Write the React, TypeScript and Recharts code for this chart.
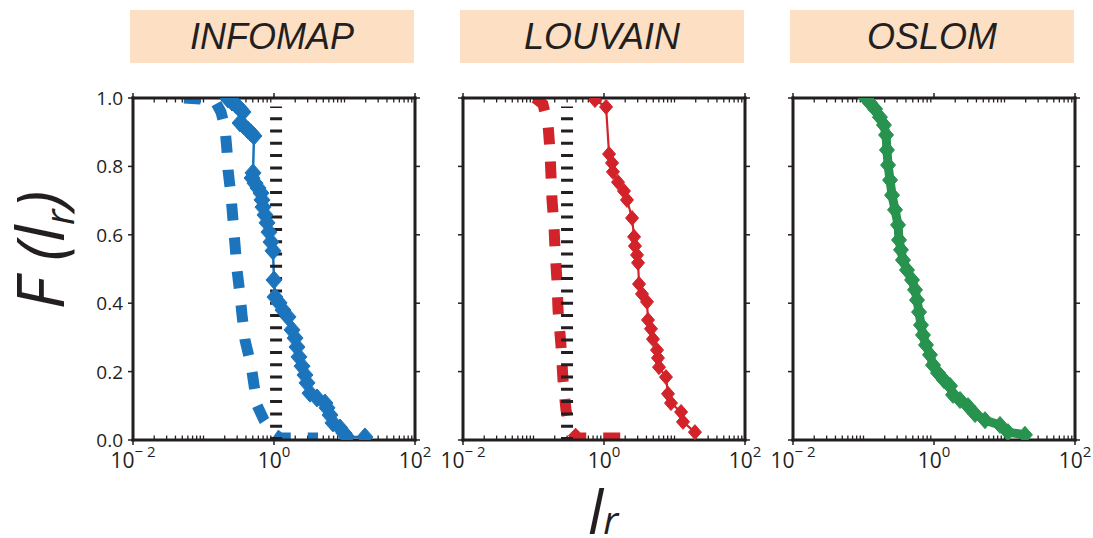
import React from "react";
import { LineChart, Line, XAxis, YAxis, ReferenceLine } from "recharts";

const INK = "#231f20";
const BLUE = "#1c75bc";
const RED = "#d2232a";
const GREEN = "#27934f";
const TITLE_BG = "#fddfc4";
const FONT = "'Open Sans', 'Noto Sans', sans-serif";

type Pt = { l: number; f: number };

// INFOMAP: observed ranking (solid + diamonds), null model (dashed), cut-off (dotted)
const infomapObserved: Pt[] = [
  { l: 0.223, f: 0.997 }, { l: 0.254, f: 0.988 }, { l: 0.289, f: 0.98 }, { l: 0.33, f: 0.968 },
  { l: 0.363, f: 0.959 }, { l: 0.33, f: 0.927 }, { l: 0.375, f: 0.918 }, { l: 0.428, f: 0.906 },
  { l: 0.472, f: 0.898 }, { l: 0.52, f: 0.889 }, { l: 0.504, f: 0.781 }, { l: 0.488, f: 0.766 },
  { l: 0.538, f: 0.751 }, { l: 0.593, f: 0.737 }, { l: 0.654, f: 0.722 }, { l: 0.676, f: 0.702 },
  { l: 0.698, f: 0.681 }, { l: 0.745, f: 0.658 }, { l: 0.796, f: 0.635 }, { l: 0.849, f: 0.608 },
  { l: 0.906, f: 0.579 }, { l: 0.968, f: 0.553 }, { l: 1.0, f: 0.468 }, { l: 1.033, f: 0.418 },
  { l: 1.18, f: 0.401 }, { l: 1.34, f: 0.38 }, { l: 1.58, f: 0.36 }, { l: 1.8, f: 0.322 },
  { l: 1.99, f: 0.298 }, { l: 2.12, f: 0.272 }, { l: 2.26, f: 0.243 }, { l: 2.5, f: 0.216 },
  { l: 2.75, f: 0.19 }, { l: 2.94, f: 0.167 }, { l: 3.24, f: 0.137 }, { l: 4.07, f: 0.123 },
  { l: 5.29, f: 0.108 }, { l: 5.65, f: 0.094 }, { l: 6.23, f: 0.073 }, { l: 6.87, f: 0.05 },
  { l: 8.63, f: 0.035 }, { l: 9.84, f: 0.02 }, { l: 10.8, f: 0.009 }, { l: 19.5, f: 0.009 },
];
const infomapNull: Pt[] = [
  { l: 0.053, f: 1.0 }, { l: 0.089, f: 0.997 }, { l: 0.146, f: 0.991 }, { l: 0.177, f: 0.959 },
  { l: 0.202, f: 0.912 }, { l: 0.215, f: 0.848 }, { l: 0.223, f: 0.789 }, { l: 0.245, f: 0.716 },
  { l: 0.262, f: 0.643 }, { l: 0.28, f: 0.57 }, { l: 0.299, f: 0.497 }, { l: 0.33, f: 0.424 },
  { l: 0.352, f: 0.365 }, { l: 0.388, f: 0.292 }, { l: 0.472, f: 0.219 }, { l: 0.52, f: 0.161 },
  { l: 0.574, f: 0.102 }, { l: 0.721, f: 0.058 }, { l: 0.937, f: 0.023 }, { l: 1.22, f: 0.006 },
  { l: 4.21, f: 0.006 },
];
const infomapCut: Pt[] = [{ l: 1.07, f: 0 }, { l: 1.07, f: 0.975 }];

// LOUVAIN
const louvainObserved: Pt[] = [
  { l: 0.745, f: 0.994 }, { l: 1.07, f: 0.974 }, { l: 1.18, f: 0.836 }, { l: 1.3, f: 0.81 },
  { l: 1.34, f: 0.784 }, { l: 1.58, f: 0.754 }, { l: 1.92, f: 0.728 }, { l: 2.12, f: 0.702 },
  { l: 2.5, f: 0.649 }, { l: 2.67, f: 0.594 }, { l: 2.75, f: 0.567 }, { l: 2.94, f: 0.541 },
  { l: 3.04, f: 0.518 }, { l: 3.14, f: 0.456 }, { l: 3.46, f: 0.427 }, { l: 4.07, f: 0.404 },
  { l: 4.21, f: 0.351 }, { l: 4.64, f: 0.325 }, { l: 4.95, f: 0.295 }, { l: 5.65, f: 0.263 },
  { l: 5.83, f: 0.24 }, { l: 6.03, f: 0.213 }, { l: 7.57, f: 0.184 }, { l: 8.09, f: 0.135 },
  { l: 8.92, f: 0.108 }, { l: 12.4, f: 0.082 }, { l: 13.2, f: 0.053 }, { l: 19.5, f: 0.023 },
];
const louvainNull: Pt[] = [
  { l: 0.105, f: 1.0 }, { l: 0.136, f: 0.982 }, { l: 0.161, f: 0.921 }, { l: 0.171, f: 0.848 },
  { l: 0.177, f: 0.775 }, { l: 0.183, f: 0.702 }, { l: 0.195, f: 0.629 }, { l: 0.202, f: 0.556 },
  { l: 0.215, f: 0.468 }, { l: 0.223, f: 0.38 }, { l: 0.245, f: 0.278 }, { l: 0.262, f: 0.175 },
  { l: 0.289, f: 0.088 }, { l: 0.33, f: 0.029 }, { l: 0.428, f: 0.006 }, { l: 1.3, f: 0.006 },
  { l: 2.42, f: 0.006 },
];
const louvainCut: Pt[] = [{ l: 0.299, f: 0 }, { l: 0.299, f: 0.975 }];

// OSLOM
const oslomObserved: Pt[] = [
  { l: 0.108, f: 1.0 }, { l: 0.124, f: 0.985 }, { l: 0.146, f: 0.968 }, { l: 0.171, f: 0.944 },
  { l: 0.195, f: 0.921 }, { l: 0.209, f: 0.892 }, { l: 0.215, f: 0.848 }, { l: 0.223, f: 0.804 },
  { l: 0.238, f: 0.76 }, { l: 0.254, f: 0.716 }, { l: 0.28, f: 0.673 }, { l: 0.309, f: 0.629 },
  { l: 0.319, f: 0.585 }, { l: 0.34, f: 0.556 }, { l: 0.363, f: 0.526 }, { l: 0.414, f: 0.497 },
  { l: 0.488, f: 0.468 }, { l: 0.538, f: 0.439 }, { l: 0.574, f: 0.409 }, { l: 0.613, f: 0.374 },
  { l: 0.654, f: 0.336 }, { l: 0.698, f: 0.307 }, { l: 0.77, f: 0.278 }, { l: 0.877, f: 0.249 },
  { l: 0.968, f: 0.219 }, { l: 1.14, f: 0.196 }, { l: 1.39, f: 0.175 }, { l: 1.69, f: 0.158 },
  { l: 1.86, f: 0.132 }, { l: 2.34, f: 0.117 }, { l: 3.04, f: 0.099 }, { l: 3.82, f: 0.076 },
  { l: 5.29, f: 0.058 }, { l: 8.63, f: 0.044 }, { l: 11.2, f: 0.023 }, { l: 19.5, f: 0.015 },
];

const panelTitles = ["INFOMAP", "LOUVAIN", "OSLOM"];
const xDomain: [number, number] = [0.01, 100];
const xMajorTicks = [0.01, 1, 100];
const xMinorTicks = [
  0.02, 0.03, 0.04, 0.05, 0.06, 0.07, 0.08, 0.09, 0.1,
  0.2, 0.3, 0.4, 0.5, 0.6, 0.7, 0.8, 0.9,
  2, 3, 4, 5, 6, 7, 8, 9, 10,
  20, 30, 40, 50, 60, 70, 80, 90,
];
const yTicks = [0, 0.2, 0.4, 0.6, 0.8, 1.0];

// plot-area geometry
const PLOT_LEFTS = [133, 463, 793];
const PLOT_W = 282;
const PLOT_TOP = 98;
const PLOT_BOTTOM = 440;
const SIDE = 60;
const H = 538;
const AX = 1; // thickness reserved by each axis

const Diamond = (color: string, w: number, h: number) => (props: any) => {
  const { cx, cy, index } = props;
  if (cx == null || cy == null) return <g key={`d-${index}`} />;
  return (
    <polygon
      key={`d-${index}`}
      points={`${cx},${cy - h} ${cx + w},${cy} ${cx},${cy + h} ${cx - w},${cy}`}
      fill={color}
      stroke={color}
      strokeWidth={1}
    />
  );
};

const XTick = (props: any) => {
  const { x, y, payload } = props;
  const exp = Math.round(Math.log10(payload.value));
  const sup = exp < 0 ? `\u2212 ${Math.abs(exp)}` : `${exp}`;
  return (
    <text x={x} y={y + 23} textAnchor="middle" fontFamily={FONT} fontSize={21} fill={INK}>
      <tspan>10</tspan>
      <tspan dy={-11} fontSize={15}>{sup}</tspan>
    </text>
  );
};

const YTickLabeled = (props: any) => {
  const { x, y, payload } = props;
  return (
    <text x={x} y={y} dy={7} textAnchor="end" fontFamily={FONT} fontSize={19} fill={INK}>
      {Number(payload.value).toFixed(1)}
    </text>
  );
};
const NoTick = () => <g />;

type Series = {
  observed: Pt[];
  color: string;
  lineWidth: number;
  marker: [number, number];
  nullModel?: Pt[];
  cut?: Pt[];
};

const panels: Series[] = [
  { observed: infomapObserved, color: BLUE, lineWidth: 2.5, marker: [8, 9], nullModel: infomapNull, cut: infomapCut },
  { observed: louvainObserved, color: RED, lineWidth: 2.2, marker: [6.5, 7.5], nullModel: louvainNull, cut: louvainCut },
  { observed: oslomObserved, color: GREEN, lineWidth: 9, marker: [7.5, 8.5] },
];

function Panel({ idx }: { idx: number }) {
  const s = panels[idx];
  const left = PLOT_LEFTS[idx] - SIDE;
  const axisLine = { stroke: INK, strokeWidth: 3, strokeLinecap: "square" as const };
  const tickLine = { stroke: INK, strokeWidth: 1.5 };
  return (
    <div style={{ position: "absolute", left, top: 0 }}>
      <LineChart
        width={PLOT_W + 2 * SIDE}
        height={H}
        margin={{
          top: PLOT_TOP - AX,
          bottom: H - PLOT_BOTTOM - AX,
          left: SIDE - AX,
          right: SIDE - AX,
        }}
      >
        <XAxis
          xAxisId="b"
          type="number"
          dataKey="l"
          scale="log"
          domain={xDomain}
          allowDataOverflow
          ticks={xMajorTicks}
          interval={0}
          height={AX}
          tickSize={5}
          tickMargin={0}
          tick={<XTick />}
          tickLine={tickLine}
          axisLine={axisLine}
        />
        <XAxis
          xAxisId="t"
          orientation="top"
          type="number"
          dataKey="l"
          scale="log"
          domain={xDomain}
          allowDataOverflow
          ticks={xMajorTicks}
          interval={0}
          height={AX}
          tickSize={5}
          tick={<NoTick />}
          tickLine={tickLine}
          axisLine={axisLine}
        />
        <YAxis
          yAxisId="l"
          type="number"
          domain={[0, 1]}
          allowDataOverflow
          ticks={yTicks}
          interval={0}
          width={AX}
          tickSize={5}
          tickMargin={5}
          tick={idx === 0 ? <YTickLabeled /> : <NoTick />}
          tickLine={tickLine}
          axisLine={axisLine}
        />
        <YAxis
          yAxisId="r"
          orientation="right"
          type="number"
          domain={[0, 1]}
          allowDataOverflow
          ticks={yTicks}
          interval={0}
          width={AX}
          tickSize={5}
          tick={<NoTick />}
          tickLine={tickLine}
          axisLine={axisLine}
        />
        {xMinorTicks.map((v) => (
          <ReferenceLine
            key={`mb-${v}`}
            xAxisId="b"
            yAxisId="l"
            segment={[{ x: v, y: 0 }, { x: v, y: 0.013 }]}
            stroke={INK}
            strokeWidth={1.3}
          />
        ))}
        {xMinorTicks.map((v) => (
          <ReferenceLine
            key={`mt-${v}`}
            xAxisId="b"
            yAxisId="l"
            segment={[{ x: v, y: 1 }, { x: v, y: 0.987 }]}
            stroke={INK}
            strokeWidth={1.3}
          />
        ))}
        {s.nullModel && (
          <Line
            xAxisId="b"
            yAxisId="l"
            data={s.nullModel}
            dataKey="f"
            type="linear"
            stroke={s.color}
            strokeWidth={11}
            strokeDasharray="17 17"
            dot={false}
            activeDot={false}
            isAnimationActive={false}
          />
        )}
        <Line
          xAxisId="b"
          yAxisId="l"
          data={s.observed}
          dataKey="f"
          type="linear"
          stroke={s.color}
          strokeWidth={s.lineWidth}
          strokeLinejoin="round"
          dot={Diamond(s.color, s.marker[0], s.marker[1])}
          activeDot={false}
          isAnimationActive={false}
        />
        {s.cut && (
          <Line
            xAxisId="b"
            yAxisId="l"
            data={s.cut}
            dataKey="f"
            type="linear"
            stroke={INK}
            strokeWidth={12}
            strokeDasharray="3 9.3"
            dot={false}
            activeDot={false}
            isAnimationActive={false}
          />
        )}
      </LineChart>
    </div>
  );
}

export default function App() {
  return (
    <div
      style={{
        position: "absolute",
        left: 0,
        top: 0,
        width: 1093,
        height: H,
        background: "#fff",
        overflow: "hidden",
      }}
    >
      {panelTitles.map((t, i) => (
        <div
          key={t}
          style={{
            position: "absolute",
            left: PLOT_LEFTS[i] - 3,
            top: 10,
            width: PLOT_W + 2,
            height: 53,
            background: TITLE_BG,
            display: "flex",
            alignItems: "center",
            justifyContent: "center",
            fontFamily: "'Liberation Sans', Arial, sans-serif",
            fontStyle: "italic",
            fontSize: 36,
            color: INK,
          }}
        >
          {t}
        </div>
      ))}
      {[0, 1, 2].map((i) => (
        <Panel key={i} idx={i} />
      ))}
      <svg
        width={1093}
        height={H}
        style={{ position: "absolute", left: 0, top: 0, pointerEvents: "none" }}
      >
        <text
          transform="translate(64,250) rotate(-90)"
          textAnchor="middle"
          fontFamily={FONT}
          fontStyle="italic"
          fontSize={66}
          fill={INK}
        >
          F (l
          <tspan fontSize={40} dy={10}>r</tspan>
          <tspan dy={-10}>)</tspan>
        </text>
        <text x={588} y={534} fontFamily={FONT} fontStyle="italic" fontSize={60} fill={INK}>
          l<tspan fontSize={38}>r</tspan>
        </text>
      </svg>
    </div>
  );
}
